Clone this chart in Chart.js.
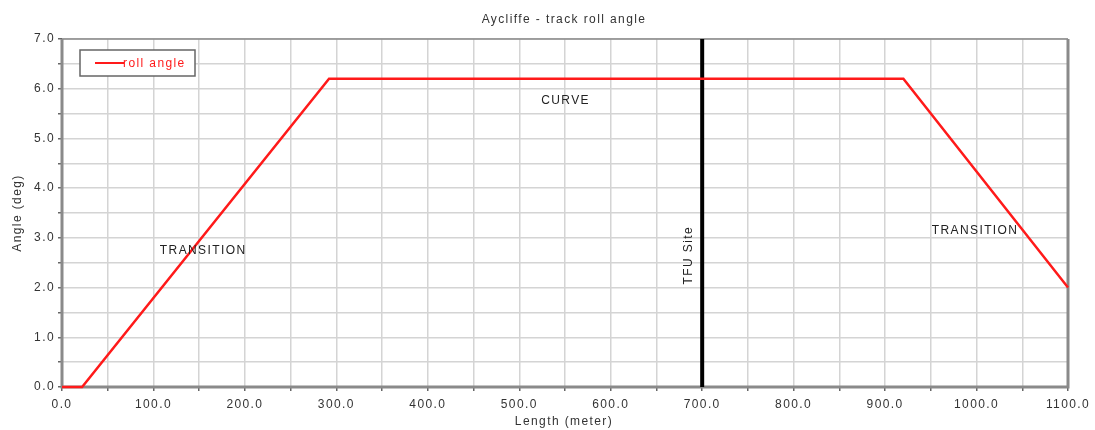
<!DOCTYPE html>
<html>
<head>
<meta charset="utf-8">
<script src="https://cdn.jsdelivr.net/npm/chart.js@4/dist/chart.umd.min.js"></script>
<style>
  html, body { margin: 0; padding: 0; background: #fff; }
  #wrap { width: 1095px; height: 430px; }
</style>
</head>
<body>
<div id="wrap"><canvas id="chart" width="1095" height="430"></canvas></div>
<script>
// roll angle profile (length in meter, angle in deg)
const lengthM = [0, 22, 292, 920, 1100];
const rollDeg = [0, 0, 6.2, 6.2, 2.0];
const siteLength = 700;
const yRange = [0, 7];
const xRange = [0, 1100];

// text notes placed on the plot (data units)
const notes = [
  { text: "TRANSITION", x: 107, y: 2.75 },
  { text: "CURVE", x: 524, y: 5.75 },
  { text: "TRANSITION", x: 951, y: 3.15 }
];

const font = "'Liberation Sans', Arial, sans-serif";
const spacing = "1.4px";

const decorPlugin = {
  id: "decor",
  beforeDraw(chart) {
    chart.ctx.letterSpacing = spacing;
  },
  beforeDatasetsDraw(chart) {
    const ctx = chart.ctx;
    const a = chart.chartArea;
    ctx.save();
    // frame
    ctx.strokeStyle = "#8a8a8a";
    ctx.lineWidth = 1.5;
    ctx.beginPath();
    ctx.moveTo(a.left, a.top); ctx.lineTo(a.right, a.top);
    ctx.stroke();
    ctx.lineWidth = 3;
    ctx.beginPath();
    ctx.moveTo(a.left, a.top); ctx.lineTo(a.left, a.bottom); ctx.lineTo(a.right, a.bottom); ctx.lineTo(a.right, a.top);
    ctx.stroke();
    ctx.restore();
  },
  afterDatasetsDraw(chart) {
    const ctx = chart.ctx;
    const xs = chart.scales.x, ys = chart.scales.y;
    ctx.save();
    ctx.letterSpacing = spacing;
    // notes
    ctx.fillStyle = "#222";
    ctx.font = "12px " + font;
    ctx.textAlign = "left";
    ctx.textBaseline = "middle";
    notes.forEach(n => ctx.fillText(n.text, xs.getPixelForValue(n.x), ys.getPixelForValue(n.y)));

    // site label
    ctx.save();
    ctx.translate(xs.getPixelForValue(siteLength) - 13, ys.getPixelForValue(2.65));
    ctx.rotate(-Math.PI / 2);
    ctx.textAlign = "center";
    ctx.fillText("TFU Site", 0, 0);
    ctx.restore();

    // legend box
    const lx = 80, ly = 50, lw = 115, lh = 26;
    ctx.fillStyle = "#fff";
    ctx.fillRect(lx, ly, lw, lh);
    ctx.strokeStyle = "#666";
    ctx.lineWidth = 1.5;
    ctx.strokeRect(lx, ly, lw, lh);
    ctx.strokeStyle = "#ff1a1a";
    ctx.lineWidth = 2;
    ctx.beginPath();
    ctx.moveTo(lx + 15, ly + 13); ctx.lineTo(lx + 44, ly + 13);
    ctx.stroke();
    ctx.fillStyle = "#ff1a1a";
    ctx.textAlign = "left";
    ctx.fillText(chart.data.datasets[0].label, lx + 43, ly + 14);

    // titles
    ctx.fillStyle = "#333";
    ctx.textAlign = "center";
    ctx.fillText("Aycliffe - track roll angle", 564, 20);
    ctx.fillText("Length (meter)", 564, 422);
    ctx.save();
    ctx.translate(18, 213);
    ctx.rotate(-Math.PI / 2);
    ctx.fillText("Angle (deg)", 0, 0);
    ctx.restore();
    ctx.restore();
  }
};

new Chart(document.getElementById("chart"), {
  type: "scatter",
  data: {
    datasets: [
      {
        label: "roll angle",
        data: lengthM.map((x, i) => ({ x: x, y: rollDeg[i] })),
        showLine: true,
        borderColor: "#ff1a1a",
        borderWidth: 2.5,
        pointRadius: 0,
        tension: 0,
        clip: 4
      },
      {
        label: "TFU Site",
        data: [{ x: siteLength, y: yRange[0] }, { x: siteLength, y: yRange[1] }],
        showLine: true,
        borderColor: "#000",
        borderWidth: 4,
        pointRadius: 0
      }
    ]
  },
  options: {
    responsive: false,
    animation: false,
    layout: { padding: { left: 0, right: 27, top: 39, bottom: 0 } },
    plugins: {
      legend: { display: false },
      tooltip: { enabled: false }
    },
    scales: {
      x: {
        type: "linear",
        min: xRange[0],
        max: xRange[1],
        afterFit(scale) { scale.height = 43; },
        border: { display: false },
        grid: { color: "#d4d4d4", lineWidth: 1.5, tickLength: 4, tickColor: "#666" },
        ticks: {
          stepSize: 50,
          autoSkip: false,
          maxRotation: 0,
          padding: 6,
          color: "#333",
          font: { family: font, size: 12 },
          callback: v => (v % 100 === 0 ? v.toFixed(1) : "")
        }
      },
      y: {
        min: yRange[0],
        max: yRange[1],
        afterFit(scale) { scale.width = 62; },
        border: { display: false },
        grid: { color: "#d4d4d4", lineWidth: 1.5, tickLength: 4, tickColor: "#666" },
        ticks: {
          stepSize: 0.5,
          autoSkip: false,
          padding: 3,
          color: "#333",
          font: { family: font, size: 12 },
          callback: v => (v % 1 === 0 ? v.toFixed(1) : "")
        }
      }
    }
  },
  plugins: [decorPlugin]
});
</script>
</body>
</html>
